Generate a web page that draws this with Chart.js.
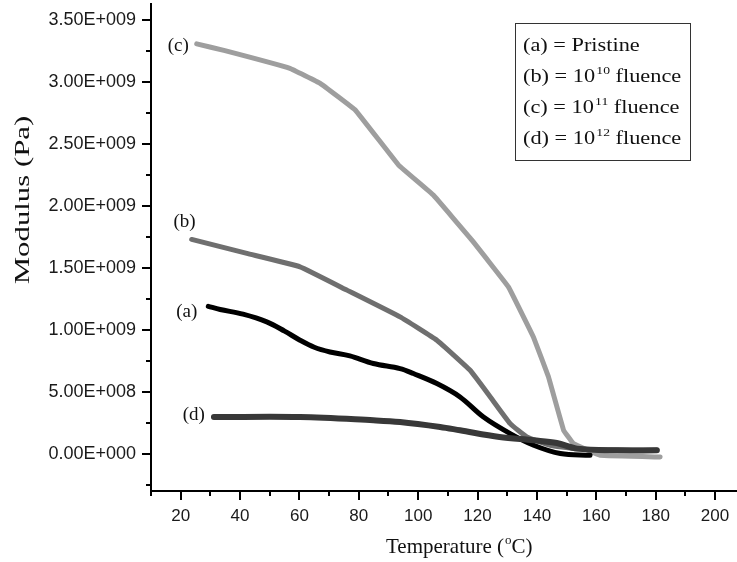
<!DOCTYPE html>
<html>
<head>
<meta charset="utf-8">
<script src="https://cdn.jsdelivr.net/npm/chart.js@4.4.1/dist/chart.umd.min.js"></script>
<style>
  html, body { margin: 0; padding: 0; background: #fff; }
</style>
</head>
<body>
<canvas id="modulus" width="737" height="562"></canvas>
<script>
// (a) pristine
const tempPristine = [29.3, 33.3, 41, 49, 55, 60.2, 65, 70.3, 77, 84.9, 93.9, 98.4, 106.3, 114.1, 122, 131, 138.9, 147.9, 157.9];
const modPristine  = [1.19e9, 1.165e9, 1.127e9, 1.065e9, 0.99e9, 0.917e9, 0.86e9, 0.822e9, 0.79e9, 0.729e9, 0.688e9, 0.648e9, 0.567e9, 0.459e9, 0.297e9, 0.163e9, 0.069e9, 0.002e9, -0.012e9];

// (b) 10^10 fluence
const tempF10 = [23.7, 42.3, 60.2, 76, 93.9, 106.3, 117.5, 124.3, 131, 136.6, 144.5, 152.3, 165, 180.4];
const modF10  = [1.73e9, 1.617e9, 1.509e9, 1.321e9, 1.105e9, 0.917e9, 0.674e9, 0.459e9, 0.244e9, 0.136e9, 0.069e9, 0.042e9, 0.032e9, 0.03e9];

// (c) 10^11 fluence
const tempF11 = [25.4, 34.9, 56.8, 67, 78.8, 93.4, 105.1, 118.1, 130.4, 138.8, 143.9, 149, 152.3, 161.3, 181.5];
const modF11  = [3.308e9, 3.254e9, 3.111e9, 2.99e9, 2.775e9, 2.33e9, 2.088e9, 1.724e9, 1.347e9, 0.943e9, 0.62e9, 0.19e9, 0.082e9, -0.012e9, -0.026e9];

// (d) 10^12 fluence
const tempF12 = [31.2, 60.2, 84.9, 93.9, 107.4, 114.1, 127.4, 138.9, 146.7, 153.5, 167, 180.4];
const modF12  = [0.297e9, 0.297e9, 0.271e9, 0.257e9, 0.217e9, 0.19e9, 0.136e9, 0.109e9, 0.087e9, 0.042e9, 0.028e9, 0.028e9];

const xTicks = [20, 40, 60, 80, 100, 120, 140, 160, 180, 200];
const xMinorTicks = [10, 30, 50, 70, 90, 110, 130, 150, 170, 190];
const yTicks = [0, 5e8, 1e9, 1.5e9, 2e9, 2.5e9, 3e9, 3.5e9];
const yMinorTicks = [-2.5e8, 2.5e8, 7.5e8, 1.25e9, 1.75e9, 2.25e9, 2.75e9, 3.25e9];

const curveTags = ['(a)', '(b)', '(c)', '(d)'];
const legendRows = [
  { head: '(a) = Pristine' },
  { head: '(b) = 10', exp: '10', tail: ' fluence' },
  { head: '(c) = 10', exp: '11', tail: ' fluence' },
  { head: '(d) = 10', exp: '12', tail: ' fluence' }
];

const SERIF = '"Liberation Serif", "Times New Roman", serif';
const SANS = '"Liberation Sans", Arial, sans-serif';

function toPoints(xs, ys) {
  return xs.map((x, i) => ({ x: x, y: ys[i] }));
}

// 3.50E+009 style labels
function sciLabel(v) {
  if (v === 0) return '0.00E+000';
  const e = Math.floor(Math.log10(Math.abs(v)));
  const m = v / Math.pow(10, e);
  return m.toFixed(2) + 'E+' + String(e).padStart(3, '0');
}

function line(points, color, width, tension, order) {
  return {
    data: points,
    borderColor: color,
    borderWidth: width,
    tension: tension,
    pointRadius: 0,
    borderCapStyle: 'round',
    borderJoinStyle: 'round',
    fill: false,
    order: order
  };
}

// text with an optional raised, smaller part; sx widens the glyphs
function drawSup(ctx, x, y, head, exp, tail, size, sx) {
  ctx.save();
  ctx.translate(x, y);
  ctx.scale(sx, 1);
  let cx = 0;
  ctx.font = size + 'px ' + SERIF;
  ctx.fillText(head, cx, 0);
  cx += ctx.measureText(head).width;
  if (exp) {
    cx += 1;
    ctx.font = Math.round(size * 0.6) + 'px ' + SERIF;
    ctx.fillText(exp, cx, -size * 0.42);
    cx += ctx.measureText(exp).width;
  }
  if (tail) {
    ctx.font = size + 'px ' + SERIF;
    ctx.fillText(tail, cx, 0);
  }
  ctx.restore();
}

const decorations = {
  id: 'decorations',
  afterDraw(chart) {
    const ctx = chart.ctx;
    const xs = chart.scales.x, ys = chart.scales.y;
    const area = chart.chartArea;
    ctx.save();

    // minor ticks
    ctx.strokeStyle = '#000';
    ctx.lineWidth = 2;
    ctx.beginPath();
    xMinorTicks.forEach(v => {
      const px = Math.round(xs.getPixelForValue(v));
      ctx.moveTo(px, area.bottom);
      ctx.lineTo(px, area.bottom + 5);
    });
    yMinorTicks.forEach(v => {
      const py = Math.round(ys.getPixelForValue(v));
      ctx.moveTo(area.left, py);
      ctx.lineTo(area.left - 5, py);
    });
    ctx.stroke();

    ctx.fillStyle = '#111';
    ctx.textBaseline = 'alphabetic';

    // axis titles
    ctx.save();
    ctx.translate(29, 200);
    ctx.rotate(-Math.PI / 2);
    ctx.scale(1.4, 1);
    ctx.font = '22px ' + SERIF;
    ctx.textAlign = 'center';
    ctx.fillText('Modulus (Pa)', 0, 0);
    ctx.restore();

    ctx.textAlign = 'left';
    drawSup(ctx, 386, 553, 'Temperature (', 'o', 'C)', 21, 1);

    // curve tags next to the first point of each curve
    const tagOffsets = [[-11, 6], [4, -17], [-8, 2], [-9, -2]];
    ctx.font = '19px ' + SERIF;
    ctx.textAlign = 'right';
    ctx.textBaseline = 'middle';
    chart.data.datasets.forEach((ds, i) => {
      const p = ds.data[0];
      const px = xs.getPixelForValue(p.x) + tagOffsets[i][0];
      const py = ys.getPixelForValue(p.y) + tagOffsets[i][1];
      ctx.fillText(curveTags[i], px, py);
    });

    // legend box
    ctx.strokeStyle = '#333';
    ctx.lineWidth = 1;
    ctx.strokeRect(515.5, 23.5, 175, 137);
    ctx.textAlign = 'left';
    ctx.textBaseline = 'alphabetic';
    legendRows.forEach((row, i) => {
      drawSup(ctx, 523, 51 + i * 31, row.head, row.exp, row.tail, 18, 1.24);
    });

    ctx.restore();
  }
};

new Chart(document.getElementById('modulus'), {
  type: 'line',
  data: {
    datasets: [
      line(toPoints(tempPristine, modPristine), '#000000', 5, 0.35, 2),
      line(toPoints(tempF10, modF10), '#6f6f6f', 5, 0.1, 1),
      line(toPoints(tempF11, modF11), '#9e9e9e', 5, 0.05, 3),
      line(toPoints(tempF12, modF12), '#383838', 6, 0.35, 0)
    ]
  },
  options: {
    responsive: false,
    animation: false,
    devicePixelRatio: 1,
    layout: { padding: { top: 4, right: 0, bottom: 0, left: 0 } },
    plugins: {
      legend: { display: false },
      tooltip: { enabled: false }
    },
    scales: {
      x: {
        type: 'linear',
        min: 10,
        max: 207.4,
        afterBuildTicks: s => { s.ticks = xTicks.map(v => ({ value: v })); },
        afterFit: s => { s.height = 71; s.paddingLeft = 0; s.paddingRight = 0; },
        ticks: {
          font: { family: SANS, size: 17 },
          color: '#1a1a1a',
          padding: 6,
          maxRotation: 0,
          autoSkip: false
        },
        grid: { drawOnChartArea: false, drawTicks: true, tickLength: 9, color: '#000', lineWidth: 2 },
        border: { display: true, color: '#000', width: 2 }
      },
      y: {
        type: 'linear',
        min: -3e8,
        max: 3.63e9,
        afterBuildTicks: s => { s.ticks = yTicks.map(v => ({ value: v })); },
        afterFit: s => { s.width = 151; s.paddingTop = 0; s.paddingBottom = 0; },
        ticks: {
          font: { family: SANS, size: 18 },
          color: '#1a1a1a',
          padding: 6,
          callback: v => sciLabel(v)
        },
        grid: { drawOnChartArea: false, drawTicks: true, tickLength: 9, color: '#000', lineWidth: 2 },
        border: { display: true, color: '#000', width: 2 }
      }
    }
  },
  plugins: [decorations]
});
</script>
</body>
</html>
